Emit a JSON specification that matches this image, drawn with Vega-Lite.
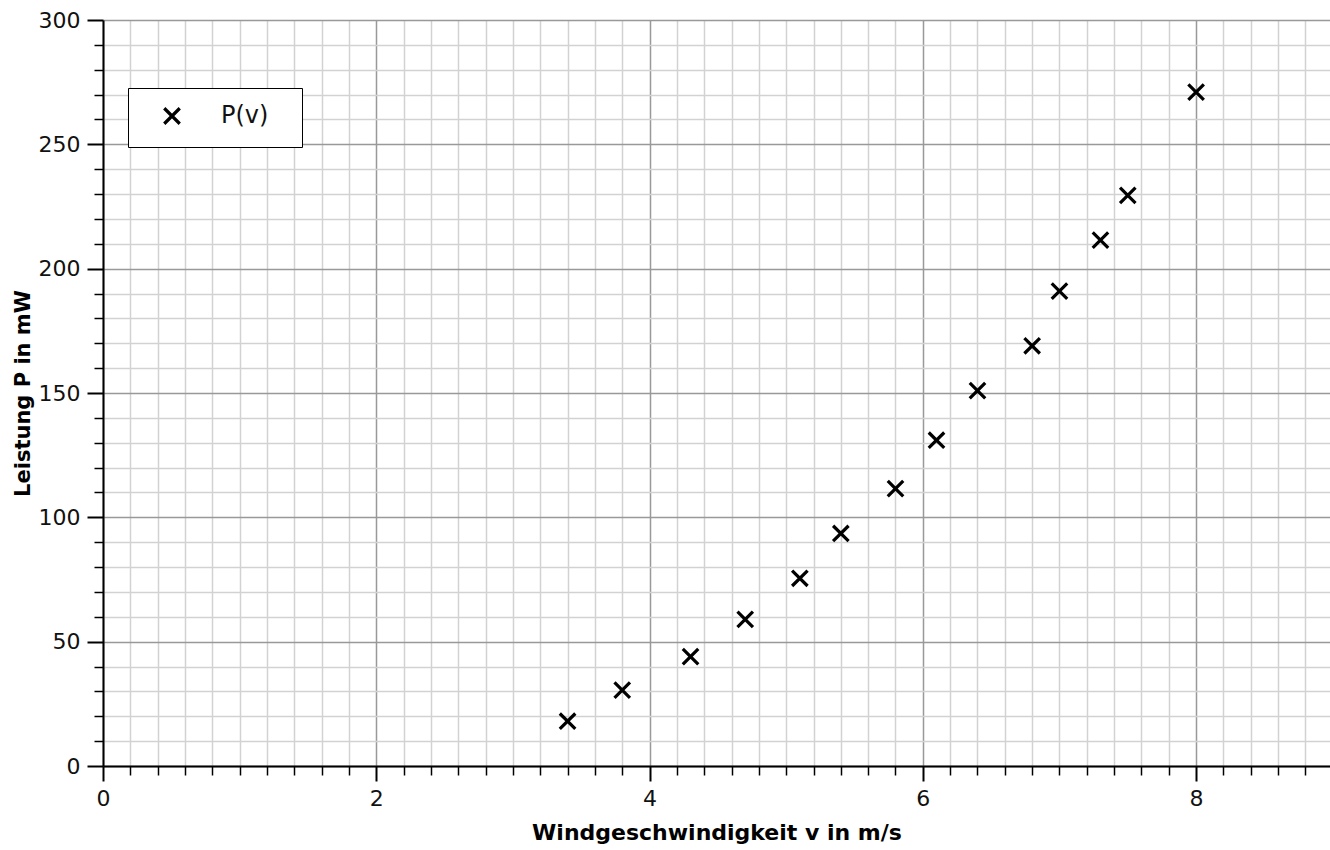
{
  "$schema": "https://vega.github.io/schema/vega-lite/v6.json",
  "width": 1227,
  "height": 746,
  "autosize": "none",
  "padding": {"left": 103, "top": 20, "right": 0, "bottom": 84},
  "background": "white",
  "config": {"view": {"stroke": null}, "font": "DejaVu Sans"},
  "data": {
    "values": [
      {"v": 3.4, "P": 18, "s": "P(v)"},
      {"v": 3.8, "P": 30.5, "s": "P(v)"},
      {"v": 4.3, "P": 44, "s": "P(v)"},
      {"v": 4.7, "P": 59, "s": "P(v)"},
      {"v": 5.1, "P": 75.5, "s": "P(v)"},
      {"v": 5.4, "P": 93.5, "s": "P(v)"},
      {"v": 5.8, "P": 111.5, "s": "P(v)"},
      {"v": 6.1, "P": 131, "s": "P(v)"},
      {"v": 6.4, "P": 151, "s": "P(v)"},
      {"v": 6.8, "P": 169, "s": "P(v)"},
      {"v": 7.0, "P": 191, "s": "P(v)"},
      {"v": 7.3, "P": 211.5, "s": "P(v)"},
      {"v": 7.5, "P": 229.5, "s": "P(v)"},
      {"v": 8.0, "P": 271, "s": "P(v)"}
    ]
  },
  "layer": [
    {
      "mark": {"type": "point", "opacity": 0},
      "encoding": {
        "x": {
          "field": "v", "type": "quantitative",
          "scale": {"domain": [0, 8.98], "nice": false, "zero": false},
          "axis": {
            "orient": "bottom",
            "values": [0.2, 0.4, 0.6, 0.8, 1, 1.2, 1.4, 1.6, 1.8, 2.2, 2.4, 2.6, 2.8, 3, 3.2, 3.4, 3.6, 3.8, 4.2, 4.4, 4.6, 4.8, 5, 5.2, 5.4, 5.6, 5.8, 6.2, 6.4, 6.6, 6.8, 7, 7.2, 7.4, 7.6, 7.8, 8.2, 8.4, 8.6, 8.8],
            "grid": true, "gridColor": "#d2d2d2", "gridWidth": 1.5, "gridOpacity": 1,
            "labels": false, "domain": false,
            "ticks": true, "tickColor": "#000", "tickSize": 9, "tickWidth": 1.5,
            "title": null
          }
        },
        "y": {
          "field": "P", "type": "quantitative",
          "scale": {"domain": [0, 300], "nice": false},
          "axis": {
            "orient": "left",
            "values": [10, 20, 30, 40, 60, 70, 80, 90, 110, 120, 130, 140, 160, 170, 180, 190, 210, 220, 230, 240, 260, 270, 280, 290],
            "grid": true, "gridColor": "#d2d2d2", "gridWidth": 1.5, "gridOpacity": 1,
            "labels": false, "domain": false,
            "ticks": true, "tickColor": "#000", "tickSize": 9, "tickWidth": 1.5,
            "title": null
          }
        }
      }
    },
    {
      "mark": {"type": "point", "shape": "M-1,-1L1,1M1,-1L-1,1", "filled": false, "size": 240, "strokeWidth": 3.2, "opacity": 1},
      "encoding": {
        "x": {
          "field": "v", "type": "quantitative",
          "scale": {"domain": [0, 8.98], "nice": false, "zero": false},
          "axis": {
            "orient": "bottom",
            "values": [0, 2, 4, 6, 8],
            "grid": true, "gridColor": "#999999", "gridWidth": 1.5, "gridOpacity": 1,
            "domain": true, "domainColor": "#000", "domainWidth": 2,
            "ticks": true, "tickColor": "#000", "tickSize": 15, "tickWidth": 2,
            "labelFontSize": 22, "labelColor": "#111", "labelPadding": 7, "labelFlush": false,
            "title": "Windgeschwindigkeit v in m/s",
            "titleFontSize": 22, "titleFontWeight": "bold", "titleColor": "#000", "titlePadding": 13
          }
        },
        "y": {
          "field": "P", "type": "quantitative",
          "scale": {"domain": [0, 300], "nice": false},
          "axis": {
            "orient": "left",
            "values": [0, 50, 100, 150, 200, 250, 300],
            "grid": true, "gridColor": "#999999", "gridWidth": 1.5, "gridOpacity": 1,
            "domain": true, "domainColor": "#000", "domainWidth": 2,
            "ticks": true, "tickColor": "#000", "tickSize": 16, "tickWidth": 2,
            "labelFontSize": 22, "labelColor": "#111", "labelPadding": 7,
            "title": "Leistung P in mW",
            "titleFontSize": 21, "titleFontWeight": "bold", "titleColor": "#000", "titlePadding": 5
          }
        },
        "color": {
          "field": "s", "type": "nominal",
          "scale": {"range": ["#000"]},
          "legend": {
            "orient": "none", "legendX": 25, "legendY": 68,
            "title": null, "padding": 16,
            "strokeColor": "#000", "fillColor": "#fff",
            "symbolType": "M-1,-1L1,1M1,-1L-1,1", "symbolSize": 240, "symbolStrokeWidth": 3.2,
            "symbolStrokeColor": "#000", "symbolFillColor": "transparent",
            "labelFontSize": 24, "labelColor": "#111",
            "labelExpr": "datum.label + '\u2800'",
            "symbolOffset": 16, "labelOffset": 37
          }
        }
      }
    }
  ],
  "resolve": {"axis": {"x": "independent", "y": "independent"}}
}
